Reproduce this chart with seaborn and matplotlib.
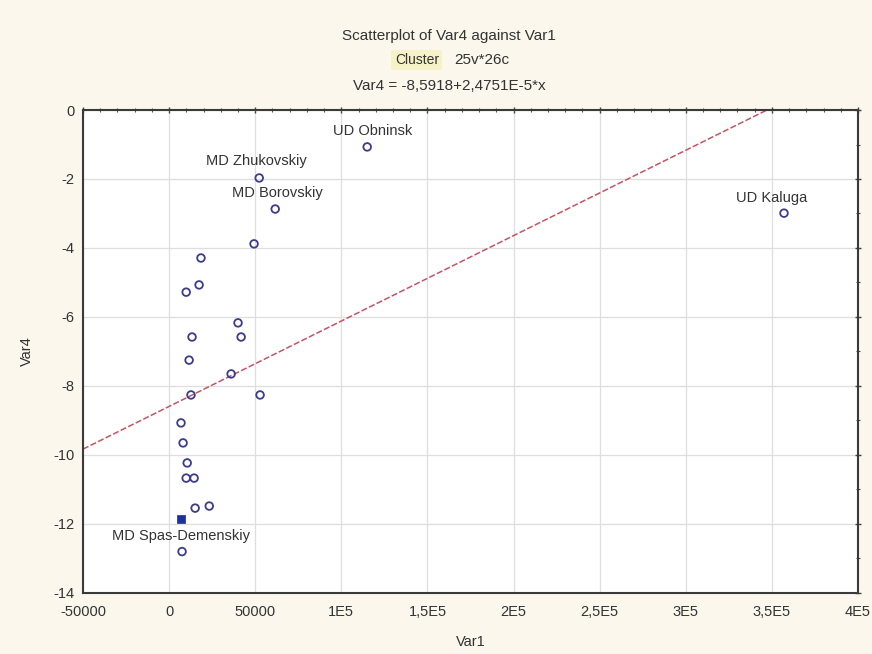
import matplotlib
matplotlib.use("Agg")
import matplotlib.pyplot as plt
import seaborn as sns
import numpy as np
import pandas as pd
from matplotlib.ticker import FixedLocator, AutoMinorLocator

# ---- data ----
var1 = [115000, 52300, 61600, 357000, 49300, 18500, 17400, 9900, 40000, 41800,
        13300, 11600, 36000, 12700, 52800, 6900, 8100, 10500, 9900, 14500,
        15100, 23300, 6900, 7500]
var4 = [-1.07, -1.97, -2.87, -2.99, -3.88, -4.29, -5.07, -5.28, -6.17, -6.58,
        -6.58, -7.25, -7.65, -8.26, -8.26, -9.07, -9.65, -10.23, -10.67, -10.67,
        -11.54, -11.48, -11.86, -12.8]
names = ["UD Obninsk", "MD Zhukovskiy", "MD Borovskiy", "UD Kaluga", "", "", "", "", "", "",
         "", "", "", "", "", "", "", "", "", "",
         "", "", "MD Spas-Demenskiy", ""]
highlight = [False] * 22 + [True, False]
intercept = -8.5918
slope = 2.4751e-5
x_ticks = [-50000, 0, 50000, 100000, 150000, 200000, 250000, 300000, 350000, 400000]
x_tick_labels = ["-50000", "0", "50000", "1E5", "1,5E5", "2E5", "2,5E5", "3E5", "3,5E5", "4E5"]
y_ticks = [0, -2, -4, -6, -8, -10, -12, -14]

df = pd.DataFrame({"Var1": var1, "Var4": var4, "name": names, "hl": highlight})

sns.set_theme(style="white")
plt.rcParams['font.family'] = ['Liberation Sans', 'DejaVu Sans']

bg = "#FBF7EC"
fig = plt.figure(figsize=(8.72, 6.54), dpi=100, facecolor=bg)
ax = fig.add_axes([0.0952, 0.0933, 0.984 - 0.0952, 0.8318 - 0.0933])
ax.set_facecolor("white")

ax.set_xlim(-50000, 400000)
ax.set_ylim(-14, 0)

# grid
ax.xaxis.set_major_locator(FixedLocator(x_ticks))
ax.yaxis.set_major_locator(FixedLocator(y_ticks))
ax.grid(True, color="#DEDEDE", linewidth=0.9)
ax.set_axisbelow(True)

# regression line
xs = np.array(ax.get_xlim())
ax.plot(xs, intercept + slope * xs, color="#C45560", linestyle=(0, (4, 1.5)),
        linewidth=1.1, zorder=2)

# points
sns.scatterplot(data=df[~df.hl], x="Var1", y="Var4", ax=ax, marker="o",
                facecolor="none", edgecolor="#3C3C8C", linewidth=1.3, s=30, zorder=3)
sns.scatterplot(data=df[df.hl], x="Var1", y="Var4", ax=ax, marker="s",
                color="#1F2FA0", edgecolor="#1F2FA0", s=40, zorder=4)

# labels
offsets = {"UD Obninsk": (3000, 0.45), "MD Zhukovskiy": (-1500, 0.48),
           "MD Borovskiy": (1000, 0.45), "UD Kaluga": (-7000, 0.45),
           "MD Spas-Demenskiy": (0, -0.5)}
for _, r in df[df.name != ""].iterrows():
    dx, dy = offsets[r["name"]]
    ax.text(r.Var1 + dx, r.Var4 + dy, r["name"], ha="center", va="center",
            fontsize=10.5, color="#333333", zorder=5)

ax.set_xticklabels(x_tick_labels)
ax.set_yticklabels([str(t) for t in y_ticks])
ax.xaxis.set_minor_locator(AutoMinorLocator(5))
ax.yaxis.set_minor_locator(AutoMinorLocator(2))
ax.tick_params(axis="both", which="both", direction="inout", top=True, right=True,
               colors="#444444", labelcolor="#333333", labelsize=10.5)
ax.tick_params(which="major", length=5, width=1)
ax.tick_params(which="minor", length=3, width=0.8)
ax.tick_params(axis="x", pad=6)
for s in ax.spines.values():
    s.set_color("#3A3A3A")
    s.set_linewidth(1.5)

ax.set_xlabel("Var1", fontsize=10.5, color="#333333", labelpad=12)
ax.set_ylabel("Var4", fontsize=10.5, color="#333333", labelpad=14)

# titles
fig.text(0.515, 1 - 36 / 654, "Scatterplot of Var4 against Var1", ha="center", va="center",
         fontsize=11, color="#333333")
fig.text(0.478, 1 - 60 / 654, "Cluster", ha="center", va="center", fontsize=10,
         color="#333333", bbox=dict(boxstyle="square,pad=0.25", facecolor="#F6F2C8", edgecolor="none"))
fig.text(0.552, 1 - 60 / 654, "25v*26c", ha="center", va="center", fontsize=11, color="#333333")
fig.text(0.515, 1 - 86 / 654, "Var4 = -8,5918+2,4751E-5*x", ha="center", va="center",
         fontsize=11, color="#333333")

fig.savefig("out.png", dpi=100, facecolor=bg)
